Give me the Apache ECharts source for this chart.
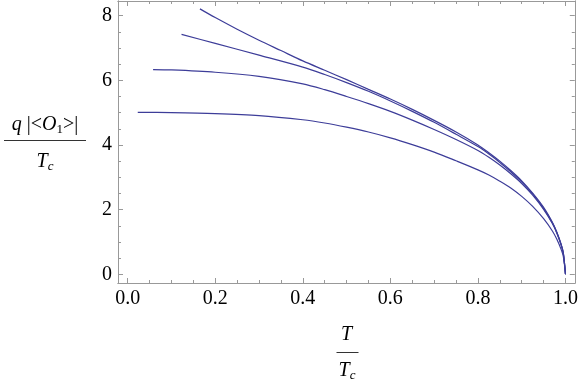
<!DOCTYPE html>
<html>
<head>
<meta charset="utf-8">
<script src="https://cdn.jsdelivr.net/npm/echarts@6/dist/echarts.min.js"></script>
<style>
  html, body { margin: 0; padding: 0; background: #fff; }
  #chart { width: 581px; height: 385px; }
</style>
</head>
<body>
<div id="chart"></div>
<script>
// values
const xTicks = [0, 0.2, 0.4, 0.6, 0.8, 1.0]
const xMinor = [0.05, 0.1, 0.15, 0.25, 0.3, 0.35, 0.45, 0.5, 0.55, 0.65, 0.7, 0.75, 0.85, 0.9, 0.95]
const yTicks = [0, 2, 4, 6, 8]
const yMinor = [0.5, 1, 1.5, 2.5, 3, 3.5, 4.5, 5, 5.5, 6.5, 7, 7.5]

// shared T/Tc samples from 0.4 up to Tc
const xTail = [0.4, 0.45, 0.5, 0.55, 0.6, 0.65, 0.7, 0.75, 0.8, 0.825, 0.85, 0.875, 0.9, 0.925, 0.95, 0.97, 0.98, 0.99, 0.995, 1.0]

const xA = [0.023, 0.1, 0.2, 0.3].concat(xTail)
const yA = [5.01, 5.0, 4.97, 4.91,
  4.78, 4.68, 4.55, 4.4, 4.22, 4.01, 3.78, 3.51, 3.23, 3.07, 2.88, 2.67, 2.41, 2.1, 1.72, 1.34, 1.09, 0.77, 0.55, 0]

const xB = [0.058, 0.1, 0.2, 0.3].concat(xTail)
const yB = [6.33, 6.32, 6.25, 6.12,
  5.89, 5.71, 5.5, 5.28, 5.04, 4.77, 4.48, 4.17, 3.83, 3.62, 3.38, 3.11, 2.81, 2.45, 2.01, 1.57, 1.28, 0.91, 0.65, 0]

const xC = [0.123, 0.2, 0.3].concat(xTail)
const yC = [7.42, 7.14, 6.78,
  6.41, 6.18, 5.93, 5.66, 5.36, 5.04, 4.7, 4.33, 3.95, 3.72, 3.46, 3.17, 2.86, 2.49, 2.04, 1.59, 1.3, 0.92, 0.66, 0]

const xD = [0.165, 0.2, 0.25, 0.3, 0.35].concat(xTail)
const yD = [8.21, 7.94, 7.58, 7.24, 6.92,
  6.6, 6.31, 6.02, 5.72, 5.42, 5.1, 4.76, 4.4, 4.0, 3.76, 3.5, 3.21, 2.89, 2.51, 2.07, 1.61, 1.31, 0.93, 0.66, 0]

const frame = '#999999'
const font = 'Liberation Serif'
const lineColor = '#3d3d99'

const pairs = (xs, ys) => xs.map((x, i) => [x, ys[i]])

const xRange = { min: -0.0221, max: 1.0212 }
const yRange = { min: -0.269, max: 8.453 }

const tickAxis = (base, pos, values, len, withLabel, fmt) => Object.assign({
  type: 'value',
  position: pos,
  axisLine: { show: true, onZero: false, lineStyle: { color: frame, width: 1 } },
  splitLine: { show: false },
  axisTick: { show: true, inside: true, length: len, customValues: values, lineStyle: { color: frame, width: 1 } },
  axisLabel: withLabel
    ? { show: true, customValues: values, formatter: fmt, color: '#000', fontFamily: font, fontSize: 20, margin: 6 }
    : { show: false }
}, base)

const seriesOf = (xs, ys) => ({
  type: 'line',
  data: pairs(xs, ys),
  showSymbol: false,
  smooth: 0.3,
  lineStyle: { color: lineColor, width: 1.2 },
  silent: true
})

const chart = echarts.init(document.getElementById('chart'), null, { renderer: 'canvas' })

const option = {
  animation: false,
  grid: { left: 118, right: 5, top: 1, bottom: 102 },
  xAxis: [
    tickAxis(xRange, 'bottom', xTicks, 5, true, v => v.toFixed(1)),
    tickAxis(xRange, 'bottom', xMinor, 3, false),
    tickAxis(xRange, 'top', xTicks, 5, false),
    tickAxis(xRange, 'top', xMinor, 3, false)
  ],
  yAxis: [
    tickAxis(yRange, 'left', yTicks, 5, true, v => String(v)),
    tickAxis(yRange, 'left', yMinor, 3, false),
    tickAxis(yRange, 'right', yTicks, 5, false),
    tickAxis(yRange, 'right', yMinor, 3, false)
  ],
  series: [seriesOf(xA, yA), seriesOf(xB, yB), seriesOf(xC, yC), seriesOf(xD, yD)],
  graphic: [
    // y axis name: q |<O1>| / Tc
    {
      type: 'text', x: 45, y: 125,
      style: {
        text: '{i|q} |<{i|O}{s|1}>|',
        fontFamily: font, fontSize: 20, fill: '#000',
        align: 'center', verticalAlign: 'middle',
        rich: {
          i: { fontFamily: font, fontSize: 20, fontStyle: 'italic' },
          s: { fontFamily: font, fontSize: 13, padding: [10, 0, 0, 0] }
        }
      }
    },
    { type: 'line', shape: { x1: 4, y1: 140.5, x2: 86, y2: 140.5 }, style: { stroke: '#333', lineWidth: 1 } },
    {
      type: 'text', x: 45, y: 162,
      style: {
        text: '{i|T}{s|c}',
        fontFamily: font, fontSize: 20, fill: '#000',
        align: 'center', verticalAlign: 'middle',
        rich: {
          i: { fontFamily: font, fontSize: 20, fontStyle: 'italic' },
          s: { fontFamily: font, fontSize: 13, fontStyle: 'italic', padding: [10, 0, 0, 0] }
        }
      }
    },
    // x axis name: T / Tc
    {
      type: 'text', x: 346.5, y: 335,
      style: {
        text: 'T', fontFamily: font, fontSize: 20, fontStyle: 'italic', fill: '#000',
        align: 'center', verticalAlign: 'middle'
      }
    },
    { type: 'line', shape: { x1: 336.5, y1: 352.5, x2: 358.5, y2: 352.5 }, style: { stroke: '#333', lineWidth: 1 } },
    {
      type: 'text', x: 347, y: 371,
      style: {
        text: '{i|T}{s|c}',
        fontFamily: font, fontSize: 20, fill: '#000',
        align: 'center', verticalAlign: 'middle',
        rich: {
          i: { fontFamily: font, fontSize: 20, fontStyle: 'italic' },
          s: { fontFamily: font, fontSize: 13, fontStyle: 'italic', padding: [10, 0, 0, 0] }
        }
      }
    }
  ]
}

chart.setOption(option)
window.addEventListener('resize', () => chart.resize())
</script>
</body>
</html>
